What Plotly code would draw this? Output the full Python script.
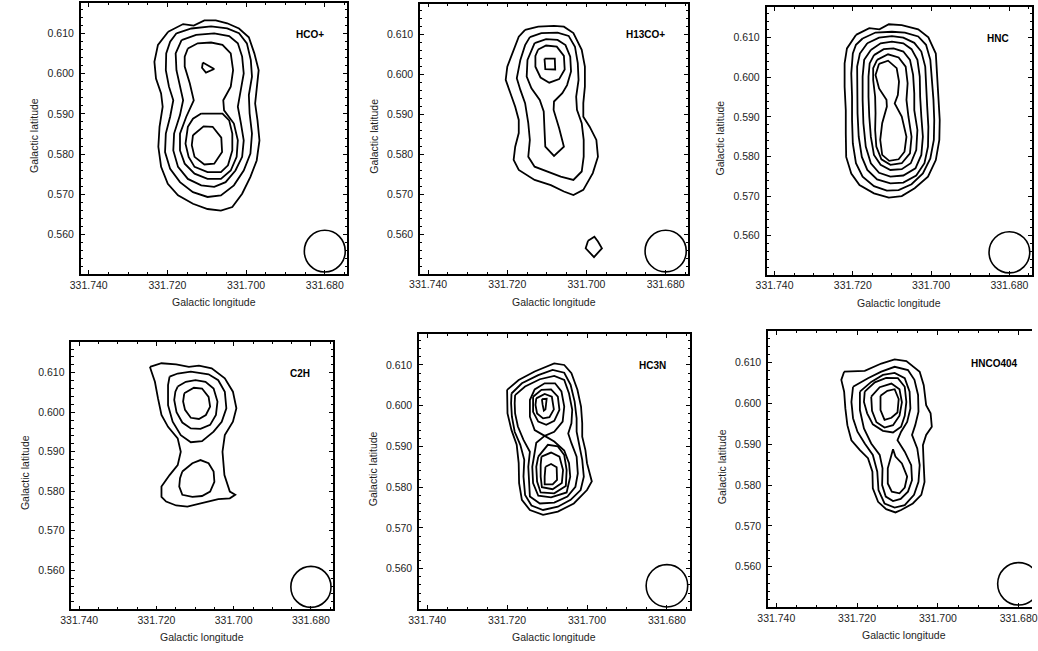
import plotly.graph_objects as go

# ---------------- data (Galactic longitude, Galactic latitude) ----------------
X_TICKS = [331.74, 331.72, 331.70, 331.68]
X_TICK_LABELS = ["331.740", "331.720", "331.700", "331.680"]
Y_TICKS = [0.56, 0.57, 0.58, 0.59, 0.60, 0.61]
Y_TICK_LABELS = ["0.560", "0.570", "0.580", "0.590", "0.600", "0.610"]

MOLECULES = ["HCO+", "H13CO+", "HNC", "C2H", "HC3N", "HNCO404"]

BEAM_LON = 331.680
BEAM_LAT = 0.5558
BEAM_RADIUS = 0.0052

HCOP_CONTOURS = [
    [(331.7198, 0.6105), (331.7160, 0.6124), (331.7133, 0.6120), (331.7106, 0.6133), (331.7077, 0.6133),
     (331.7048, 0.6126), (331.7018, 0.6113), (331.6993, 0.6091), (331.6979, 0.6051), (331.6968, 0.6009),
     (331.6973, 0.5963), (331.6977, 0.5926), (331.6971, 0.5884), (331.6966, 0.5834), (331.6973, 0.5784),
     (331.6989, 0.5743), (331.7010, 0.5701), (331.7035, 0.5668), (331.7064, 0.5659), (331.7098, 0.5663),
     (331.7135, 0.5676), (331.7173, 0.5697), (331.7199, 0.5726), (331.7216, 0.5768), (331.7223, 0.5818),
     (331.7220, 0.5868), (331.7212, 0.5918), (331.7216, 0.5951), (331.7229, 0.5988), (331.7233, 0.6030),
     (331.7224, 0.6072)],
    [(331.7177, 0.6101), (331.7139, 0.6113), (331.7089, 0.6118), (331.7048, 0.6113), (331.7018, 0.6101),
     (331.6998, 0.6076), (331.6988, 0.6034), (331.6985, 0.5993), (331.6993, 0.5947), (331.6991, 0.5901),
     (331.6985, 0.5851), (331.6989, 0.5801), (331.7006, 0.5759), (331.7031, 0.5722), (331.7064, 0.5697),
     (331.7098, 0.5693), (331.7135, 0.5705), (331.7168, 0.5730), (331.7193, 0.5763), (331.7206, 0.5805),
     (331.7204, 0.5851), (331.7193, 0.5893), (331.7185, 0.5934), (331.7196, 0.5968), (331.7204, 0.6009),
     (331.7203, 0.6051), (331.7193, 0.6080)],
    [(331.7164, 0.6084), (331.7127, 0.6097), (331.7081, 0.6101), (331.7043, 0.6094), (331.7021, 0.6076),
     (331.7010, 0.6043), (331.7006, 0.6001), (331.7014, 0.5959), (331.7021, 0.5918), (331.7013, 0.5876),
     (331.7006, 0.5834), (331.7010, 0.5793), (331.7027, 0.5759), (331.7052, 0.5730), (331.7081, 0.5718),
     (331.7114, 0.5722), (331.7148, 0.5738), (331.7173, 0.5768), (331.7185, 0.5809), (331.7183, 0.5851),
     (331.7168, 0.5897), (331.7160, 0.5934), (331.7168, 0.5972), (331.7177, 0.6009), (331.7179, 0.6051)],
    [(331.7148, 0.6063), (331.7123, 0.6076), (331.7089, 0.6078), (331.7060, 0.6072), (331.7039, 0.6051),
     (331.7033, 0.6009), (331.7039, 0.5968), (331.7058, 0.5934), (331.7056, 0.5909), (331.7031, 0.5876),
     (331.7021, 0.5834), (331.7024, 0.5793), (331.7039, 0.5759), (331.7064, 0.5738), (331.7098, 0.5738),
     (331.7131, 0.5751), (331.7156, 0.5776), (331.7168, 0.5809), (331.7168, 0.5851), (331.7152, 0.5893),
     (331.7133, 0.5934), (331.7143, 0.5976), (331.7156, 0.6018), (331.7156, 0.6043)],
    [(331.7114, 0.5901), (331.7060, 0.5901), (331.7043, 0.5884), (331.7035, 0.5851), (331.7035, 0.5809),
     (331.7046, 0.5772), (331.7064, 0.5755), (331.7098, 0.5755), (331.7131, 0.5768), (331.7146, 0.5793),
     (331.7154, 0.5826), (331.7148, 0.5868), (331.7135, 0.5888)],
    [(331.7110, 0.6028), (331.7081, 0.6012), (331.7102, 0.6003), (331.7112, 0.6015)],
    [(331.7135, 0.5847), (331.7108, 0.5869), (331.7085, 0.5868), (331.7063, 0.5841), (331.7061, 0.5805),
     (331.7081, 0.5776), (331.7106, 0.5774), (331.7131, 0.5793), (331.7138, 0.5822)],
]

H13COP_CONTOURS = [
    [(331.7155, 0.6111), (331.7122, 0.6119), (331.7082, 0.6121), (331.7057, 0.6119), (331.7033, 0.6103),
     (331.7012, 0.6061), (331.7004, 0.6019), (331.7004, 0.5969), (331.7008, 0.5928), (331.7008, 0.5894),
     (331.6992, 0.5869), (331.6975, 0.5836), (331.6971, 0.5794), (331.6984, 0.5753), (331.7008, 0.5711),
     (331.7033, 0.5698), (331.7057, 0.5707), (331.7090, 0.5723), (331.7131, 0.5736), (331.7171, 0.5761),
     (331.7184, 0.5786), (331.7180, 0.5819), (331.7171, 0.5853), (331.7171, 0.5886), (331.7180, 0.5919),
     (331.7192, 0.5953), (331.7204, 0.5986), (331.7200, 0.6019), (331.7184, 0.6061), (331.7171, 0.6094)],
    [(331.7143, 0.6093), (331.7114, 0.6103), (331.7073, 0.6104), (331.7045, 0.6096), (331.7029, 0.6069),
     (331.7022, 0.6028), (331.7020, 0.5986), (331.7026, 0.5944), (331.7024, 0.5911), (331.7012, 0.5878),
     (331.7007, 0.5836), (331.7007, 0.5794), (331.7012, 0.5757), (331.7033, 0.5736), (331.7065, 0.5744),
     (331.7098, 0.5757), (331.7131, 0.5769), (331.7147, 0.5794), (331.7143, 0.5836), (331.7147, 0.5878),
     (331.7155, 0.5928), (331.7167, 0.5961), (331.7176, 0.5990), (331.7167, 0.6036), (331.7155, 0.6073)],
    [(331.7131, 0.6078), (331.7102, 0.6088), (331.7073, 0.6086), (331.7053, 0.6073), (331.7041, 0.6044),
     (331.7039, 0.6007), (331.7049, 0.5973), (331.7061, 0.5953), (331.7082, 0.5932), (331.7083, 0.5911),
     (331.7069, 0.5865), (331.7057, 0.5819), (331.7082, 0.5796), (331.7104, 0.5819), (331.7106, 0.5861),
     (331.7108, 0.5907), (331.7118, 0.5936), (331.7139, 0.5965), (331.7151, 0.5994), (331.7149, 0.6036)],
    [(331.7122, 0.6062), (331.7102, 0.6072), (331.7075, 0.6069), (331.7057, 0.6046), (331.7055, 0.6012),
     (331.7069, 0.5988), (331.7094, 0.5979), (331.7116, 0.5992), (331.7129, 0.6019), (331.7129, 0.6046)],
    [(331.7106, 0.6039), (331.7080, 0.6039), (331.7079, 0.6012), (331.7104, 0.6013)],
    [(331.6996, 0.5584), (331.6980, 0.5594), (331.6971, 0.5582), (331.6961, 0.5565), (331.6981, 0.5543),
     (331.7002, 0.5565)],
]

HNC_CONTOURS = [
    [(331.7192, 0.6107), (331.7158, 0.6124), (331.7132, 0.6121), (331.7108, 0.6134), (331.7075, 0.6132),
     (331.7033, 0.6121), (331.7007, 0.6101), (331.6988, 0.6060), (331.6985, 0.6010), (331.6981, 0.5951),
     (331.6978, 0.5892), (331.6979, 0.5842), (331.6988, 0.5791), (331.7008, 0.5749), (331.7042, 0.5720),
     (331.7075, 0.5700), (331.7108, 0.5696), (331.7146, 0.5707), (331.7183, 0.5728), (331.7204, 0.5757),
     (331.7217, 0.5799), (331.7218, 0.5858), (331.7218, 0.5917), (331.7221, 0.5976), (331.7221, 0.6035),
     (331.7215, 0.6073)],
    [(331.7175, 0.6098), (331.7142, 0.6113), (331.7100, 0.6115), (331.7067, 0.6113), (331.7033, 0.6103),
     (331.7013, 0.6082), (331.7002, 0.6044), (331.6998, 0.5993), (331.6994, 0.5943), (331.6992, 0.5892),
     (331.6993, 0.5842), (331.7002, 0.5795), (331.7021, 0.5757), (331.7050, 0.5730), (331.7083, 0.5715),
     (331.7113, 0.5714), (331.7146, 0.5725), (331.7175, 0.5749), (331.7192, 0.5783), (331.7200, 0.5833),
     (331.7202, 0.5892), (331.7202, 0.5951), (331.7204, 0.6010), (331.7200, 0.6060), (331.7192, 0.6082)],
    [(331.7163, 0.6086), (331.7133, 0.6100), (331.7100, 0.6104), (331.7071, 0.6100), (331.7043, 0.6087),
     (331.7025, 0.6065), (331.7015, 0.6027), (331.7013, 0.5976), (331.7010, 0.5926), (331.7007, 0.5875),
     (331.7008, 0.5825), (331.7017, 0.5783), (331.7038, 0.5752), (331.7071, 0.5734), (331.7104, 0.5732),
     (331.7138, 0.5742), (331.7163, 0.5766), (331.7177, 0.5799), (331.7185, 0.5850), (331.7188, 0.5909),
     (331.7189, 0.5968), (331.7189, 0.6027), (331.7182, 0.6060)],
    [(331.7154, 0.6069), (331.7129, 0.6086), (331.7100, 0.6090), (331.7071, 0.6086), (331.7050, 0.6071),
     (331.7035, 0.6044), (331.7029, 0.6002), (331.7028, 0.5951), (331.7025, 0.5901), (331.7021, 0.5850),
     (331.7025, 0.5804), (331.7040, 0.5770), (331.7071, 0.5752), (331.7104, 0.5749), (331.7133, 0.5759),
     (331.7154, 0.5783), (331.7167, 0.5825), (331.7173, 0.5884), (331.7175, 0.5943), (331.7175, 0.6002),
     (331.7171, 0.6044)],
    [(331.7146, 0.6056), (331.7121, 0.6071), (331.7096, 0.6073), (331.7071, 0.6065), (331.7054, 0.6044),
     (331.7046, 0.6006), (331.7043, 0.5959), (331.7043, 0.5917), (331.7035, 0.5867), (331.7038, 0.5816),
     (331.7052, 0.5783), (331.7075, 0.5768), (331.7104, 0.5766), (331.7129, 0.5779), (331.7146, 0.5804),
     (331.7154, 0.5850), (331.7158, 0.5901), (331.7160, 0.5951), (331.7160, 0.6002), (331.7157, 0.6035)],
    [(331.7138, 0.6044), (331.7110, 0.6058), (331.7083, 0.6050), (331.7065, 0.6027), (331.7060, 0.5985),
     (331.7063, 0.5943), (331.7058, 0.5901), (331.7050, 0.5850), (331.7054, 0.5808), (331.7075, 0.5783),
     (331.7104, 0.5779), (331.7127, 0.5793), (331.7140, 0.5825), (331.7143, 0.5867), (331.7142, 0.5909),
     (331.7143, 0.5951), (331.7148, 0.5993), (331.7148, 0.6023)],
    [(331.7133, 0.6034), (331.7110, 0.6042), (331.7088, 0.6023), (331.7082, 0.5989), (331.7085, 0.5955),
     (331.7093, 0.5934), (331.7075, 0.5901), (331.7063, 0.5850), (331.7068, 0.5812), (331.7083, 0.5793),
     (331.7107, 0.5789), (331.7125, 0.5804), (331.7130, 0.5842), (331.7125, 0.5884), (331.7113, 0.5926),
     (331.7114, 0.5943), (331.7133, 0.5972), (331.7142, 0.6006)],
]

C2H_CONTOURS = [
    [(331.7217, 0.6115), (331.7187, 0.6124), (331.7149, 0.6121), (331.7116, 0.6115), (331.7090, 0.6118),
     (331.7057, 0.6111), (331.7023, 0.6086), (331.7002, 0.6052), (331.6993, 0.6010), (331.7002, 0.5976),
     (331.7023, 0.5942), (331.7029, 0.5900), (331.7024, 0.5841), (331.7010, 0.5799), (331.6996, 0.5791),
     (331.7010, 0.5782), (331.7040, 0.5780), (331.7082, 0.5769), (331.7120, 0.5761), (331.7149, 0.5764),
     (331.7175, 0.5774), (331.7187, 0.5786), (331.7187, 0.5812), (331.7166, 0.5841), (331.7145, 0.5866),
     (331.7137, 0.5900), (331.7145, 0.5934), (331.7170, 0.5963), (331.7187, 0.5993), (331.7196, 0.6035),
     (331.7204, 0.6077), (331.7213, 0.6103)],
    [(331.7166, 0.6090), (331.7145, 0.6098), (331.7111, 0.6103), (331.7065, 0.6096), (331.7040, 0.6081),
     (331.7023, 0.6052), (331.7019, 0.6010), (331.7031, 0.5976), (331.7052, 0.5951), (331.7082, 0.5927),
     (331.7111, 0.5924), (331.7137, 0.5942), (331.7158, 0.5976), (331.7170, 0.6018), (331.7170, 0.6069)],
    [(331.7145, 0.6065), (331.7124, 0.6077), (331.7099, 0.6081), (331.7073, 0.6077), (331.7052, 0.6060),
     (331.7042, 0.6027), (331.7046, 0.5993), (331.7061, 0.5968), (331.7086, 0.5958), (331.7111, 0.5959),
     (331.7133, 0.5974), (331.7148, 0.6000), (331.7154, 0.6031), (331.7151, 0.6052)],
    [(331.7128, 0.6048), (331.7103, 0.6062), (331.7082, 0.6060), (331.7065, 0.6039), (331.7061, 0.6014),
     (331.7072, 0.5993), (331.7090, 0.5983), (331.7111, 0.5986), (331.7126, 0.6006), (331.7131, 0.6027)],
    [(331.7133, 0.5850), (331.7107, 0.5871), (331.7086, 0.5879), (331.7065, 0.5871), (331.7052, 0.5850),
     (331.7050, 0.5824), (331.7061, 0.5799), (331.7082, 0.5788), (331.7107, 0.5786), (331.7133, 0.5791),
     (331.7141, 0.5812), (331.7139, 0.5833)],
]

HC3N_CONTOURS = [
    [(331.7200, 0.6039), (331.7171, 0.6063), (331.7131, 0.6084), (331.7082, 0.6104), (331.7057, 0.6100),
     (331.7039, 0.6080), (331.7024, 0.6039), (331.7015, 0.5998), (331.7012, 0.5957), (331.7012, 0.5924),
     (331.7004, 0.5891), (331.7000, 0.5859), (331.6988, 0.5814), (331.7000, 0.5793), (331.7033, 0.5760),
     (331.7073, 0.5740), (331.7110, 0.5732), (331.7143, 0.5744), (331.7163, 0.5769), (331.7170, 0.5810),
     (331.7171, 0.5859), (331.7176, 0.5904), (331.7189, 0.5940), (331.7199, 0.5981)],
    [(331.7189, 0.6030), (331.7163, 0.6055), (331.7122, 0.6075), (331.7086, 0.6088), (331.7057, 0.6081),
     (331.7041, 0.6051), (331.7031, 0.6010), (331.7026, 0.5969), (331.7026, 0.5936), (331.7020, 0.5904),
     (331.7012, 0.5867), (331.7008, 0.5826), (331.7016, 0.5793), (331.7041, 0.5769), (331.7073, 0.5752),
     (331.7110, 0.5744), (331.7139, 0.5755), (331.7155, 0.5781), (331.7159, 0.5826), (331.7157, 0.5867),
     (331.7167, 0.5904), (331.7181, 0.5936), (331.7188, 0.5973), (331.7190, 0.6006)],
    [(331.7180, 0.6026), (331.7155, 0.6047), (331.7118, 0.6065), (331.7082, 0.6073), (331.7057, 0.6063),
     (331.7045, 0.6030), (331.7037, 0.5990), (331.7039, 0.5957), (331.7047, 0.5932), (331.7039, 0.5908),
     (331.7026, 0.5875), (331.7023, 0.5834), (331.7029, 0.5801), (331.7049, 0.5777), (331.7082, 0.5762),
     (331.7118, 0.5760), (331.7143, 0.5777), (331.7145, 0.5810), (331.7147, 0.5850), (331.7143, 0.5887),
     (331.7159, 0.5916), (331.7173, 0.5949), (331.7180, 0.5981), (331.7181, 0.6006)],
    [(331.7106, 0.5926), (331.7131, 0.5940), (331.7143, 0.5973), (331.7143, 0.6014), (331.7131, 0.6040),
     (331.7106, 0.6055), (331.7080, 0.6055), (331.7064, 0.6035), (331.7057, 0.5998), (331.7061, 0.5961),
     (331.7082, 0.5936), (331.7106, 0.5926), (331.7082, 0.5912), (331.7057, 0.5890), (331.7045, 0.5859),
     (331.7042, 0.5826), (331.7051, 0.5787), (331.7090, 0.5775), (331.7122, 0.5779), (331.7135, 0.5810),
     (331.7137, 0.5850), (331.7131, 0.5887), (331.7127, 0.5909)],
    [(331.7135, 0.6022), (331.7114, 0.6039), (331.7090, 0.6040), (331.7073, 0.6022), (331.7069, 0.5990),
     (331.7082, 0.5963), (331.7102, 0.5953), (331.7122, 0.5961), (331.7135, 0.5985)],
    [(331.7122, 0.5875), (331.7098, 0.5904), (331.7073, 0.5900), (331.7057, 0.5879), (331.7051, 0.5842),
     (331.7053, 0.5803), (331.7082, 0.5785), (331.7116, 0.5787), (331.7125, 0.5814), (331.7127, 0.5850)],
    [(331.7127, 0.6018), (331.7106, 0.6029), (331.7088, 0.6022), (331.7083, 0.5991), (331.7094, 0.5972),
     (331.7110, 0.5969), (331.7125, 0.5981), (331.7129, 0.6002)],
    [(331.7114, 0.5875), (331.7090, 0.5885), (331.7069, 0.5875), (331.7060, 0.5842), (331.7063, 0.5810),
     (331.7086, 0.5795), (331.7113, 0.5800), (331.7116, 0.5826), (331.7116, 0.5855)],
    [(331.7113, 0.6016), (331.7101, 0.6017), (331.7104, 0.5991), (331.7108, 0.5988), (331.7111, 0.6002)],
    [(331.7104, 0.5850), (331.7090, 0.5857), (331.7076, 0.5849), (331.7075, 0.5818), (331.7086, 0.5807),
     (331.7106, 0.5807), (331.7106, 0.5826)],
]

HNCO404_CONTOURS = [
    [(331.7232, 0.6078), (331.7181, 0.6080), (331.7140, 0.6098), (331.7107, 0.6108), (331.7078, 0.6104),
     (331.7045, 0.6078), (331.7035, 0.6045), (331.7029, 0.5996), (331.7018, 0.5976), (331.7015, 0.5943),
     (331.7029, 0.5923), (331.7037, 0.5898), (331.7035, 0.5849), (331.7033, 0.5808), (331.7041, 0.5776),
     (331.7062, 0.5755), (331.7091, 0.5739), (331.7105, 0.5733), (331.7128, 0.5741), (331.7148, 0.5759),
     (331.7161, 0.5792), (331.7162, 0.5833), (331.7173, 0.5866), (331.7193, 0.5886), (331.7214, 0.5910),
     (331.7224, 0.5947), (331.7229, 0.5988), (331.7232, 0.6029), (331.7239, 0.6058)],
    [(331.7210, 0.6041), (331.7173, 0.6062), (331.7140, 0.6078), (331.7107, 0.6090), (331.7074, 0.6082),
     (331.7058, 0.6058), (331.7049, 0.6021), (331.7048, 0.5980), (331.7056, 0.5947), (331.7064, 0.5923),
     (331.7051, 0.5890), (331.7045, 0.5849), (331.7048, 0.5808), (331.7059, 0.5776), (331.7082, 0.5751),
     (331.7107, 0.5745), (331.7132, 0.5755), (331.7147, 0.5788), (331.7150, 0.5833), (331.7161, 0.5874),
     (331.7181, 0.5902), (331.7199, 0.5931), (331.7210, 0.5964), (331.7214, 0.6004)],
    [(331.7193, 0.6029), (331.7165, 0.6053), (331.7136, 0.6070), (331.7107, 0.6075), (331.7082, 0.6062),
     (331.7070, 0.6029), (331.7068, 0.5988), (331.7076, 0.5955), (331.7091, 0.5931), (331.7100, 0.5910),
     (331.7082, 0.5882), (331.7066, 0.5849), (331.7064, 0.5812), (331.7074, 0.5784), (331.7092, 0.5766),
     (331.7111, 0.5761), (331.7129, 0.5772), (331.7138, 0.5800), (331.7137, 0.5841), (331.7144, 0.5874),
     (331.7165, 0.5902), (331.7183, 0.5939), (331.7193, 0.5984)],
    [(331.7181, 0.6029), (331.7156, 0.6052), (331.7128, 0.6063), (331.7099, 0.6062), (331.7082, 0.6041),
     (331.7078, 0.6004), (331.7082, 0.5970), (331.7091, 0.5943), (331.7111, 0.5929), (331.7136, 0.5933),
     (331.7161, 0.5949), (331.7175, 0.5976), (331.7183, 0.6004)],
    [(331.7111, 0.5888), (331.7105, 0.5870), (331.7089, 0.5853), (331.7076, 0.5821), (331.7082, 0.5794),
     (331.7095, 0.5780), (331.7114, 0.5784), (331.7124, 0.5804), (331.7124, 0.5841), (331.7117, 0.5866)],
    [(331.7165, 0.6017), (331.7144, 0.6040), (331.7115, 0.6049), (331.7095, 0.6035), (331.7089, 0.6003),
     (331.7095, 0.5970), (331.7111, 0.5947), (331.7132, 0.5941), (331.7152, 0.5954), (331.7163, 0.5982)],
    [(331.7142, 0.6019), (331.7125, 0.6031), (331.7107, 0.6035), (331.7097, 0.6011), (331.7100, 0.5978),
     (331.7115, 0.5965), (331.7132, 0.5960), (331.7142, 0.5984)],
]

ALL_CONTOURS = [HCOP_CONTOURS, H13COP_CONTOURS, HNC_CONTOURS,
                C2H_CONTOURS, HC3N_CONTOURS, HNCO404_CONTOURS]

# ---------------- layout (pixel boxes of each panel: left, top, right, bottom) ----------------
W, H = 1038, 651
LAT_RANGE = [0.5501, 0.6177]
PANEL_BOXES = [
    (71.0, 2.8, 341.8, 274.0),
    (416.0, 3.5, 688.5, 273.9),
    (768.3, 7.2, 1037.7, 274.9),
    (61.5, 342.3, 327.3, 609.4),
    (415.0, 333.6, 690.0, 609.0),
    (769.8, 331.3, 1038.0, 607.1),
]
LON_RANGES = [
    [331.742, 331.6743], [331.742, 331.6743], [331.742, 331.6743],
    [331.742, 331.6743], [331.742, 331.6743], [331.742, 331.6767],
]

FONT = "Liberation Sans, Arial, Helvetica, sans-serif"
TXT = "#1e1e1e"

fig = go.Figure()
annotations = []
shapes = []
layout_axes = {}

for i, (name, contours, box, lon_range) in enumerate(
        zip(MOLECULES, ALL_CONTOURS, PANEL_BOXES, LON_RANGES), start=1):
    xa = "x" if i == 1 else f"x{i}"
    ya = "y" if i == 1 else f"y{i}"
    for c in contours:
        pts = list(c) + [c[0]]
        fig.add_trace(go.Scatter(
            x=[p[0] for p in pts], y=[p[1] for p in pts],
            mode="lines", line=dict(color="black", width=1.8),
            xaxis=xa, yaxis=ya, hoverinfo="skip", showlegend=False))

    l, t, r, b = box
    xdom = [l / W, min(r / W, 1.0)]
    ydom = [1 - b / H, 1 - t / H]
    last = (i == 6)
    layout_axes["xaxis" if i == 1 else f"xaxis{i}"] = dict(
        domain=xdom, range=lon_range, anchor=ya,
        tickmode="array", tickvals=X_TICKS, ticktext=X_TICK_LABELS,
        ticks="inside", ticklen=4, tickwidth=1.2, tickcolor="black",
        showline=True, linewidth=1.8, linecolor="black", mirror="ticks",
        showgrid=False, zeroline=False, ticklabeloverflow="allow",
        tickfont=dict(family=FONT, size=10.5, color=TXT),
        minor=dict(ticks="inside", ticklen=2.2, tickwidth=1, tickcolor="black",
                   tickmode="linear", tick0=331.74, dtick=0.005, showgrid=False),
    )
    layout_axes["yaxis" if i == 1 else f"yaxis{i}"] = dict(
        domain=ydom, range=LAT_RANGE, anchor=xa,
        tickmode="array", tickvals=Y_TICKS, ticktext=Y_TICK_LABELS,
        ticks="inside", ticklen=4, tickwidth=1.2, tickcolor="black",
        showline=True, linewidth=1.8, linecolor="black",
        mirror=False if last else "ticks", ticklabelstandoff=3,
        showgrid=False, zeroline=False,
        tickfont=dict(family=FONT, size=10.5, color=TXT),
        minor=dict(ticks="inside", ticklen=2.2, tickwidth=1, tickcolor="black",
                   tickmode="linear", tick0=0.55, dtick=0.002, showgrid=False),
    )

    # beam circle
    shapes.append(dict(
        type="circle", xref=xa, yref=ya,
        x0=BEAM_LON + BEAM_RADIUS, x1=BEAM_LON - BEAM_RADIUS,
        y0=BEAM_LAT - BEAM_RADIUS, y1=BEAM_LAT + BEAM_RADIUS,
        line=dict(color="black", width=1.6)))

    # molecule label
    annotations.append(dict(
        xref=xa, yref=ya, x=331.6797, y=0.6099, xanchor="right", yanchor="middle",
        text=f"<b>{name}</b>", showarrow=False,
        font=dict(family=FONT, size=10, color="black")))

    # axis titles
    xc = (l + r) / 2 if not last else (l + 1046.0) / 2
    annotations.append(dict(
        xref="paper", yref="paper", x=xc / W,
        y=1 - (b + 28.0) / H, xanchor="center", yanchor="middle",
        text="Galactic longitude", showarrow=False,
        font=dict(family=FONT, size=10.5, color=TXT)))
    annotations.append(dict(
        xref="paper", yref="paper", x=(l - 47.0) / W, y=1 - ((t + b) / 2 - 3) / H,
        xanchor="center", yanchor="middle", textangle=-90,
        text="Galactic latitude", showarrow=False,
        font=dict(family=FONT, size=10.5, color=TXT)))

fig.update_layout(
    width=W, height=H, margin=dict(l=0, r=0, t=0, b=0), autosize=False,
    paper_bgcolor="white", plot_bgcolor="white", showlegend=False,
    annotations=annotations, shapes=shapes, **layout_axes)

fig.write_html("out.html")
